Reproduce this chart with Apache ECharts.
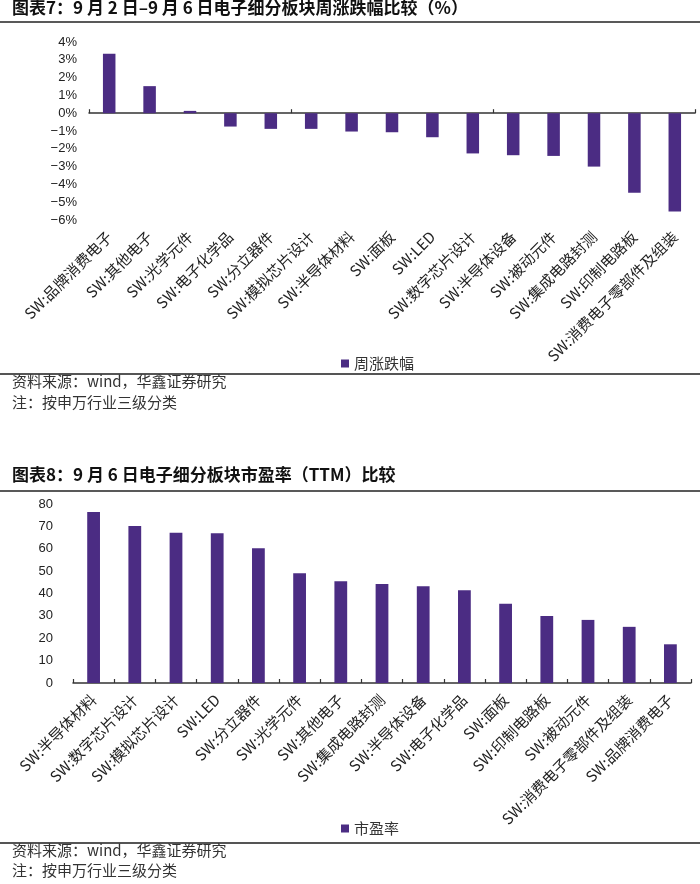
<!DOCTYPE html>
<html>
<head>
<meta charset="utf-8">
<script src="https://cdn.jsdelivr.net/npm/echarts@6/dist/echarts.min.js"></script>
<style>
html,body{margin:0;padding:0;background:#fff;}
#chart{width:700px;height:884px;}
</style>
</head>
<body>
<div id="chart"></div>
<script>
// ---- Chart 1 data: weekly change (%) ----
var cats1 = ['SW:品牌消费电子','SW:其他电子','SW:光学元件','SW:电子化学品','SW:分立器件','SW:模拟芯片设计','SW:半导体材料','SW:面板','SW:LED','SW:数字芯片设计','SW:半导体设备','SW:被动元件','SW:集成电路封测','SW:印制电路板','SW:消费电子零部件及组装'];
var vals1 = [3.34, 1.52, 0.13, -0.75, -0.88, -0.88, -1.03, -1.07, -1.35, -2.26, -2.36, -2.40, -3.00, -4.47, -5.52];
var y1Min = -6, y1Max = 4, y1Step = 1;

// ---- Chart 2 data: PE (TTM) ----
var cats2 = ['SW:半导体材料','SW:数字芯片设计','SW:模拟芯片设计','SW:LED','SW:分立器件','SW:光学元件','SW:其他电子','SW:集成电路封测','SW:半导体设备','SW:电子化学品','SW:面板','SW:印制电路板','SW:被动元件','SW:消费电子零部件及组装','SW:品牌消费电子'];
var vals2 = [76.4, 70.2, 67.2, 66.9, 60.2, 49.1, 45.5, 44.2, 43.2, 41.5, 35.4, 30.0, 28.2, 25.1, 17.3];
var y2Min = 0, y2Max = 80, y2Step = 10;

var title1 = '图表7：9 月 2 日–9 月 6 日电子细分板块周涨跌幅比较（%）';
var title2 = '图表8：9 月 6 日电子细分板块市盈率（TTM）比较';
var note1 = '资料来源：wind，华鑫证券研究';
var note2 = '注：按申万行业三级分类';
var series1Name = '周涨跌幅';
var series2Name = '市盈率';

var BAR = '#4b2c83';
var CJK = '"Noto Sans CJK SC", sans-serif';
var NUM = '"Liberation Sans", Arial, sans-serif';

var chart = echarts.init(document.getElementById('chart'), null, {renderer: 'canvas'});

function titleText(y, txt) {
  return {type: 'text', left: 12, top: y, style: {text: txt, font: 'bold 17px ' + CJK, fill: '#111'}};
}
function hline(y, w, color) {
  return {type: 'line', shape: {x1: 0, y1: y, x2: 700, y2: y}, style: {stroke: color, lineWidth: w}};
}
function noteText(y, txt) {
  return {type: 'text', left: 12, top: y, style: {text: txt, font: '15px ' + CJK, fill: '#333'}};
}

var labelStyle = {rotate: 45, fontSize: 15, fontFamily: CJK, color: '#222', margin: 14, interval: 0};
var yLabel = {fontSize: 13, fontFamily: NUM, color: '#222'};

var option = {
  animation: false,
  backgroundColor: '#fff',
  graphic: [
    titleText(-1, title1),
    hline(22, 1.5, '#222'),
    hline(374, 2, '#555'),
    noteText(374, note1),
    noteText(395, note2),
    titleText(466, title2),
    hline(491, 1.5, '#222'),
    hline(843, 2, '#555'),
    noteText(843, note1),
    noteText(863, note2)
  ],
  legend: [
    {data: [series1Name], left: 336, top: 351, icon: 'rect', itemWidth: 8, itemHeight: 8, itemGap: 4,
     textStyle: {fontSize: 15, fontFamily: CJK, color: '#333'}},
    {data: [series2Name], left: 336, top: 816, icon: 'rect', itemWidth: 8, itemHeight: 8, itemGap: 4,
     textStyle: {fontSize: 15, fontFamily: CJK, color: '#333'}}
  ],
  grid: [
    {left: 89, top: 42, width: 606, height: 178, containLabel: false},
    {left: 73, top: 504, width: 618, height: 179, containLabel: false}
  ],
  xAxis: [
    {type: 'category', gridIndex: 0, data: cats1, position: 'bottom',
     axisLine: {show: true, onZero: true, lineStyle: {color: '#333', width: 1.5}},
     axisTick: {show: true, inside: true, length: 4, lineStyle: {color: '#333', width: 1.2}},
     axisLabel: {show: false}, splitLine: {show: false}},
    {type: 'category', gridIndex: 0, data: cats1, position: 'bottom',
     axisLine: {show: false, onZero: false}, axisTick: {show: false},
     axisLabel: labelStyle, splitLine: {show: false}},
    {type: 'category', gridIndex: 1, data: cats2, position: 'bottom',
     axisLine: {show: true, lineStyle: {color: '#333', width: 1.5}},
     axisTick: {show: true, inside: true, length: 4, lineStyle: {color: '#333', width: 1.2}},
     axisLabel: labelStyle, splitLine: {show: false}}
  ],
  yAxis: [
    {type: 'value', gridIndex: 0, min: y1Min, max: y1Max, interval: y1Step,
     axisLine: {show: false}, axisTick: {show: false}, splitLine: {show: false},
     axisLabel: Object.assign({margin: 12, formatter: function (v) { return (v < 0 ? '−' + (-v) : v) + '%'; }}, yLabel)},
    {type: 'value', gridIndex: 1, min: y2Min, max: y2Max, interval: y2Step,
     axisLine: {show: false}, axisTick: {show: false}, splitLine: {show: false},
     axisLabel: Object.assign({margin: 20}, yLabel)}
  ],
  series: [
    {name: series1Name, type: 'bar', xAxisIndex: 0, yAxisIndex: 0, data: vals1, barWidth: '31%',
     itemStyle: {color: BAR}},
    {name: series2Name, type: 'bar', xAxisIndex: 2, yAxisIndex: 1, data: vals2, barWidth: '31%',
     itemStyle: {color: BAR}}
  ]
};
chart.setOption(option);
</script>
</body>
</html>
